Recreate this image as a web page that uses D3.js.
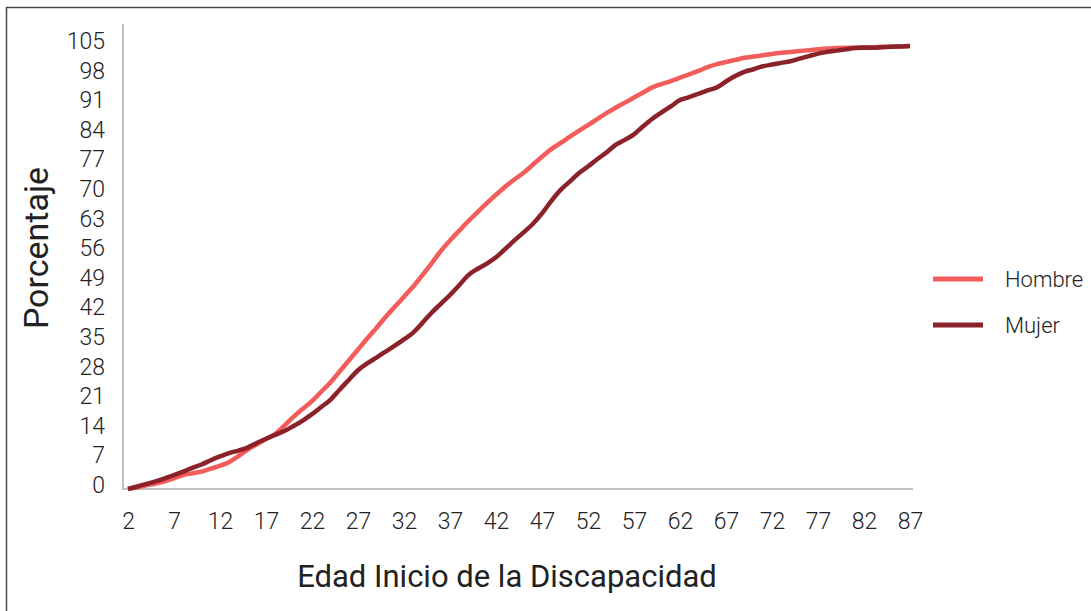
<!DOCTYPE html>
<html>
<head>
<meta charset="utf-8">
<script src="https://cdn.jsdelivr.net/npm/d3@7"></script>
<style>
  body { margin: 0; background: #fff; }
  svg text { font-family: Roboto, "DejaVu Sans", sans-serif; font-weight: 300; fill: #222; }
</style>
</head>
<body>
<div id="chart"></div>
<script>
// ages on the x axis (2..87)
const ages = d3.range(2, 88);
const xTicks = d3.range(2, 88, 5);
const yTicks = d3.range(0, 106, 7);

// cumulative percentage
const hombre = [
  0, 0.4, 0.9, 1.3, 1.8, 2.5, 3.3, 3.7, 4.1, 4.8,
  5.5, 6.4, 7.8, 9.3, 10.6, 11.8, 13.0, 15.0, 17.1, 19.0,
  20.8, 23.0, 25.2, 27.8, 30.4, 33.0, 35.6, 38.1, 40.7, 43.1,
  45.5, 47.9, 50.6, 53.4, 56.3, 58.8, 61.1, 63.4, 65.5, 67.6,
  69.6, 71.5, 73.2, 74.8, 76.7, 78.6, 80.4, 81.8, 83.3, 84.7,
  86.1, 87.5, 88.9, 90.2, 91.4, 92.6, 93.8, 95.0, 95.8, 96.5,
  97.3, 98.1, 98.9, 99.8, 100.5, 101.0, 101.5, 102.0, 102.3, 102.6,
  102.9, 103.2, 103.4, 103.6, 103.8, 104.0, 104.2, 104.3, 104.4, 104.4,
  104.5, 104.5, 104.6, 104.6, 104.7, 104.8
];
const mujer = [
  0, 0.6, 1.2, 1.8, 2.5, 3.3, 4.1, 5.0, 5.8, 6.8,
  7.7, 8.5, 9.1, 9.8, 10.9, 11.9, 12.8, 13.7, 14.9, 16.2,
  17.7, 19.4, 21.1, 23.5, 25.8, 28.1, 29.7, 31.1, 32.5, 33.9,
  35.4, 37.0, 39.3, 41.7, 43.8, 45.9, 48.2, 50.6, 52.1, 53.3,
  54.8, 56.8, 58.8, 60.7, 62.7, 65.2, 68.1, 70.7, 72.7, 74.7,
  76.3, 78.0, 79.6, 81.4, 82.6, 83.9, 85.8, 87.6, 89.1, 90.5,
  92.0, 92.7, 93.5, 94.3, 95.0, 96.4, 97.7, 98.7, 99.3, 100.0,
  100.4, 100.8, 101.2, 101.8, 102.4, 103.0, 103.4, 103.7, 104.0, 104.3,
  104.4, 104.4, 104.5, 104.6, 104.7, 104.8
];

const seriesNames = ["Hombre", "Mujer"];
const seriesColors = ["#f25c5a", "#8c2229"];

const width = 1091, height = 611;

const svg = d3.select("#chart").append("svg")
  .attr("width", width)
  .attr("height", height);

// frame
svg.append("rect")
  .attr("x", 6.5).attr("y", 7.5)
  .attr("width", 1200).attr("height", 800)
  .attr("fill", "none")
  .attr("stroke", "#4a4a4a")
  .attr("stroke-width", 1.5);

const x = d3.scaleLinear().domain([2, 87]).range([128, 910]);
const y = d3.scaleLinear().domain([0, 110]).range([489, 24]);

// axis lines
svg.append("line")
  .attr("x1", 123).attr("x2", 123)
  .attr("y1", 24).attr("y2", 490)
  .attr("stroke", "#c0c0c0").attr("stroke-width", 2);
svg.append("line")
  .attr("x1", 122).attr("x2", 913)
  .attr("y1", 489).attr("y2", 489)
  .attr("stroke", "#c0c0c0").attr("stroke-width", 2);

// Y axis labels
const yAxis = svg.append("g")
  .attr("transform", "translate(123,0)")
  .call(d3.axisLeft(y).tickValues(yTicks).tickSize(0).tickPadding(18));
yAxis.select(".domain").remove();
yAxis.selectAll("text")
  .attr("dy", "0.15em")
  .style("font-size", "23px")
  .style("font-family", "Roboto, sans-serif");

// X axis labels
const xAxis = svg.append("g")
  .attr("transform", "translate(0,489)")
  .call(d3.axisBottom(x).tickValues(xTicks).tickSize(0).tickPadding(24));
xAxis.select(".domain").remove();
xAxis.selectAll("text")
  .style("font-size", "23px")
  .style("font-family", "Roboto, sans-serif");

// axis titles
svg.append("text")
  .attr("x", 507)
  .attr("y", 587)
  .attr("text-anchor", "middle")
  .style("font-size", "31px")
  .style("font-weight", 400)
  .text("Edad Inicio de la Discapacidad");

svg.append("text")
  .attr("transform", "translate(48,248) rotate(-90)")
  .attr("text-anchor", "middle")
  .style("font-size", "34px")
  .style("font-weight", 400)
  .text("Porcentaje");

// lines
const line = d3.line()
  .x((d, i) => x(ages[i]))
  .y((d) => y(d))
  .curve(d3.curveMonotoneX);

[hombre, mujer].forEach((vals, i) => {
  svg.append("path")
    .datum(vals)
    .attr("fill", "none")
    .attr("stroke", seriesColors[i])
    .attr("stroke-width", 4.5)
    .attr("stroke-linejoin", "round")
    .attr("d", line);
});

// legend
const legend = svg.append("g").attr("transform", "translate(933,279)");
seriesNames.forEach((name, i) => {
  const g = legend.append("g").attr("transform", `translate(0,${i * 46})`);
  g.append("line")
    .attr("x1", 0).attr("x2", 50)
    .attr("y1", 0).attr("y2", 0)
    .attr("stroke", seriesColors[i])
    .attr("stroke-width", 5);
  g.append("text")
    .attr("x", 72)
    .attr("y", 0)
    .attr("dy", "0.35em")
    .style("font-size", "22px")
    .text(name);
});
</script>
</body>
</html>
